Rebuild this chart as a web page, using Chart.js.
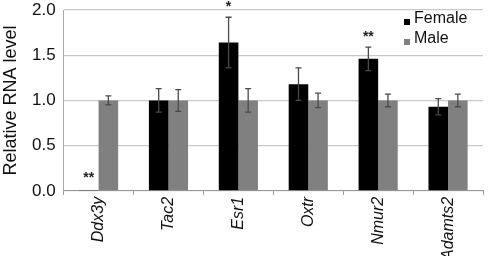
<!DOCTYPE html>
<html><head><meta charset="utf-8">
<script src="https://cdn.jsdelivr.net/npm/chart.js@4/dist/chart.umd.min.js"></script>
<style>html,body{margin:0;padding:0;background:#fff}#wrap{width:490px;height:256px}</style>
</head><body><div id="wrap"><canvas id="c" width="490" height="256"></canvas></div>
<script>
const categories = ["Ddx3y","Tac2","Esr1","Oxtr","Nmur2","Adamts2"];
const femaleValues = [0.005,1.0,1.64,1.18,1.46,0.93];
const femaleErrors = [0,0.13,0.28,0.18,0.13,0.09];
const maleValues = [1.0,1.0,1.0,1.0,1.0,1.0];
const maleErrors = [0.05,0.12,0.13,0.08,0.07,0.07];
const femaleMarks = ["**","","*","","**",""];
const yTicks = [0,0.5,1.0,1.5,2.0];

const FONT = "'Liberation Sans', Arial, sans-serif";

const errorPlugin = {
  id:'errs',
  afterDatasetsDraw(chart){
    const ctx = chart.ctx, y = chart.scales.y;
    const errs = [femaleErrors, maleErrors];
    ctx.save();
    ctx.strokeStyle = '#4a4a4a'; ctx.lineWidth = 1.3;
    chart.data.datasets.forEach((ds,di)=>{
      const meta = chart.getDatasetMeta(di);
      meta.data.forEach((bar,i)=>{
        const e = errs[di][i]; if(!e) return;
        const v = ds.data[i];
        const x = bar.x, yt = y.getPixelForValue(v+e), yb = y.getPixelForValue(v-e);
        ctx.beginPath();
        ctx.moveTo(x,yt); ctx.lineTo(x,yb);
        ctx.moveTo(x-3,yt); ctx.lineTo(x+3,yt);
        ctx.moveTo(x-3,yb); ctx.lineTo(x+3,yb);
        ctx.stroke();
      });
    });
    ctx.fillStyle = '#222'; ctx.font = "bold 14px " + FONT; ctx.textAlign='center'; ctx.textBaseline='alphabetic';
    const meta0 = chart.getDatasetMeta(0);
    femaleMarks.forEach((m,i)=>{
      if(!m) return;
      const bar = meta0.data[i];
      const top = y.getPixelForValue(femaleValues[i]+femaleErrors[i]);
      ctx.fillText(m, bar.x, top - (femaleErrors[i] ? 6 : 8));
    });
    ctx.font = "16px " + FONT; ctx.textAlign='left'; ctx.textBaseline='middle';
    const items = [["Female","#000"],["Male","#808080"]];
    items.forEach((it,k)=>{
      const ly = 19 + k*20;
      ctx.fillStyle = it[1]; ctx.fillRect(404, ly, 6, 6);
      ctx.fillStyle = '#111'; ctx.fillText(it[0], 414, ly);
    });
    ctx.restore();
  }
};

new Chart(document.getElementById('c'), {
  type:'bar',
  data:{labels:categories, datasets:[
    {label:'Female', data:femaleValues, backgroundColor:'#000', categoryPercentage:0.56, barPercentage:1.0},
    {label:'Male', data:maleValues, backgroundColor:'#808080', categoryPercentage:0.56, barPercentage:1.0}
  ]},
  options:{
    responsive:false, animation:false, devicePixelRatio:1,
    layout:{padding:{top:10,right:7,left:2,bottom:-6}},
    plugins:{legend:{display:false}, tooltip:{enabled:false}},
    scales:{
      x:{
        grid:{display:true, drawOnChartArea:false, color:'#999', tickLength:4, offset:true},
        border:{color:'#999'},
        ticks:{minRotation:90, maxRotation:90, color:'#111', font:{family:FONT, size:16, style:'italic'}, padding:2},
        afterFit(s){ s.paddingTop = 0; s.paddingBottom = 0; }
      },
      y:{
        min:0, max:2,
        afterBuildTicks(s){ s.ticks = yTicks.map(v=>({value:v})); },
        afterFit(s){ s.paddingTop = 0; s.paddingBottom = 0; },
        grid:{color:'#c8c8c8', lineWidth:1.2, drawTicks:false},
        border:{display:true, color:'#aaa'},
        ticks:{color:'#111', font:{family:FONT, size:17, lineHeight:1.0}, padding:8, callback:v=>Number(v).toFixed(1)},
        title:{display:true, text:'Relative RNA level', color:'#111', font:{family:FONT, size:18, lineHeight:1.0}, padding:{top:0,bottom:4}}
      }
    }
  },
  plugins:[errorPlugin]
});
</script></body></html>
